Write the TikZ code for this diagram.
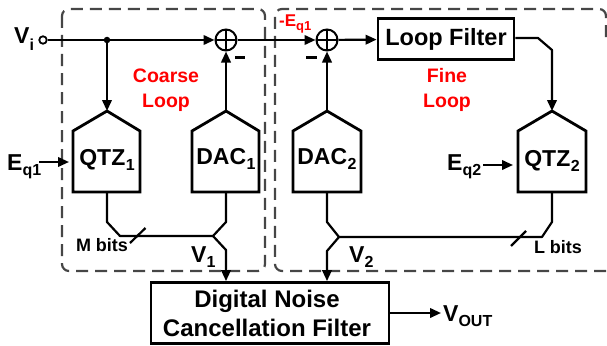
\documentclass[tikz,border=0pt]{standalone}
\usepackage{fontspec}
\setmainfont{Liberation Sans}[BoldFont={Liberation Sans Bold}]
\usetikzlibrary{arrows.meta}
\newcommand{\fs}[1]{\fontsize{#1}{#1}\selectfont\bfseries}
\tikzset{
  wire/.style={line width=2.2pt,black},
  arr/.style={wire,-{Triangle[length=11pt,width=9.5pt]}},
  blockline/.style={line width=2.8pt,black,line join=miter},
  loopbox/.style={line width=2.2pt,dash pattern=on 12pt off 7pt,draw={rgb,255:red,70;green,70;blue,70},rounded corners=7pt},
  sumnode/.style={circle,draw,line width=2pt,minimum size=21pt,inner sep=0pt,
    path picture={\draw[line width=2pt] (path picture bounding box.north)--(path picture bounding box.south)
      (path picture bounding box.west)--(path picture bounding box.east);}},
  txt/.style={inner sep=0pt,font=\fs{23}},
  red label/.style={inner sep=0pt,text=red,align=center,font=\fs{19.5}},
  boxnode/.style={draw,blockline,inner sep=0pt,align=center},
  terminal/.style={circle,draw,line width=1.8pt,fill=white,minimum size=7.5pt,inner sep=0pt},
  dotnode/.style={circle,fill=black,minimum size=6.5pt,inner sep=0pt},
  minus/.style={line width=2.6pt}
}
\begin{document}
\begin{tikzpicture}[x=1pt,y=-1pt]
\useasboundingbox (0,0) rectangle (607,345);
% dashed loops
\draw[loopbox] (62,9) rectangle (265,271);
\draw[loopbox] (625,271) -- (275,271) -- (275,9) -- (606,9) -- (606,40);
% nodes
\node[terminal] (vi) at (43,40) {};
\node[dotnode] (j) at (107,40) {};
\node[sumnode] (s1) at (226,40) {};
\node[sumnode] (s2) at (327,40) {};
\node[boxnode,minimum width=136pt,minimum height=41pt,font=\fs{23.5}] (lf) at (446,39) {Loop Filter};
\node[boxnode,minimum width=238pt,minimum height=61pt,font={\fontsize{24}{29}\selectfont\bfseries}] (dn) at (270,313) {Digital Noise\kern6pt\\Cancellation Filter\kern6pt};
% pentagon blocks
\draw[blockline] (107,111) coordinate (qt1) -- (140,131) -- (140,192) -- (107,192) coordinate (qb1) -- (73,192) -- (73,131) -- cycle;
\draw[blockline] (226,111) coordinate (dt1) -- (259,131) -- (259,192) -- (226,192) coordinate (db1) -- (192,192) -- (192,131) -- cycle;
\draw[blockline] (327,111) coordinate (dt2) -- (361,131) -- (361,192) -- (327,192) coordinate (db2) -- (293,192) -- (293,131) -- cycle;
\draw[blockline] (552,111) coordinate (qt2) -- (586,131) -- (586,192) -- (552,192) coordinate (qb2) -- (518,192) -- (518,131) -- cycle;
\node[txt] (q1) at (107,160) {QTZ\kern0.5pt\raisebox{-0.22em}{\fs{16}1}};
\node[txt] (d1) at (226,159) {DAC\kern0.5pt\raisebox{-0.22em}{\fs{16}1}};
\node[txt] (d2) at (327,159) {DAC\kern0.5pt\raisebox{-0.22em}{\fs{16}2}};
\node[txt] (q2) at (552,161) {QTZ\kern0.5pt\raisebox{-0.22em}{\fs{16}2}};
% input wires
\coordinate (eq1e) at (69,162);
\coordinate (eq2e) at (513,165);
\node[txt,anchor=west] (vil) at (14,39) {V\raisebox{-0.3em}{\fs{16}i}};
\node[txt,anchor=west] (eq1) at (7,167) {E\raisebox{-0.22em}{\fs{16}q1}};
\node[txt,anchor=west] (eq2) at (447,167) {E\raisebox{-0.22em}{\fs{16}q2}};
\draw[wire] (vi) -- (j);
\draw[arr] (j) -- (s1);
\draw[arr] (j) -- (qt1);
\draw[arr] (dt1) -- (s1);
\draw[arr] (s1) -- (s2);
\draw[arr] (dt2) -- (s2);
\draw[arr] (s2) -- (lf);
\draw[arr,line join=round] (lf.east |- 0,38) -- (538,38) -- (552,50) -- (qt2);
\draw[arr] (39,162) -- (eq1e);
\draw[arr] (483,165) -- (eq2e);
% buses
\coordinate (v1j) at (213,236);
\coordinate (v2j) at (339,237);
\draw[wire,line join=round] (qb1) -- (107,222) -- (120,236) -- (v1j) -- (226,222) -- (db1);
\draw[wire,line join=round] (qb2) -- (552,222) -- (542,237) -- (v2j) -- (327,222) -- (db2);
\draw[arr,line join=round] (v1j) -- (226,250) -- (226,|-dn.north);
\draw[arr,line join=round] (v2j) -- (327,251) -- (327,|-dn.north);
% bit slashes
\draw[wire] (145.5,228) -- (130,243);
\draw[wire] (526,231) -- (511,246);
\node[inner sep=0pt,font=\fs{18}] (mb) at (102,245) {M bits};
\node[inner sep=0pt,font=\fs{18}] (lb) at (558,247) {L bits};
\node[txt,anchor=west] (v1) at (191,257) {V\raisebox{-0.22em}{\fs{16}1}};
\node[txt,anchor=west] (v2) at (349,257) {V\raisebox{-0.22em}{\fs{16}2}};
\coordinate (oute) at (441,313);
\draw[arr] (dn.east |- oute) -- (oute);
\node[txt,anchor=west] (vo) at (443,316) {V\raisebox{-0.22em}{\fs{16}OUT}};
% minus signs
\draw[minus] (235,57.5) -- (245,57.5);
\draw[minus] (306,57.5) -- (317,57.5);
% red labels
\node[red label] (cl) at (166,90) {Coarse\\[5pt]Loop};
\node[red label] (fl) at (447,90) {Fine\\[5pt]Loop};
\node[inner sep=0pt,text=red,font=\fs{17},anchor=west] (eq) at (279,24) {-E\raisebox{-0.2em}{\fs{13}q1}};
\end{tikzpicture}
\end{document}
